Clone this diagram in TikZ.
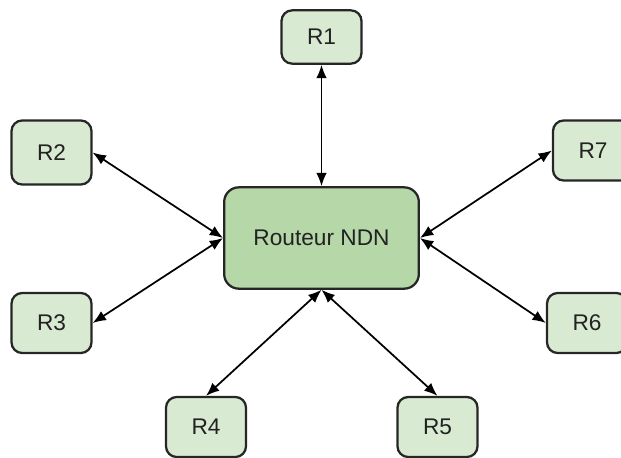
\documentclass[tikz,border=0pt]{standalone}
\usepackage{fontspec}
\setmainfont{Liberation Sans}
\usetikzlibrary{arrows.meta}
\definecolor{routerfill}{HTML}{B6D7A8}
\definecolor{nodefill}{HTML}{D9EAD3}
\definecolor{textdark}{HTML}{222222}
\tikzset{
  >={Latex[length=10pt,width=8pt]},
}
\tikzstyle{router}=[draw=black!85,line width=1.7pt,fill=routerfill,rounded corners=11pt,
  minimum width=146pt,minimum height=76pt,text=textdark,inner sep=0pt]
\tikzstyle{neighbour}=[draw=black!85,line width=1.7pt,fill=nodefill,rounded corners=8pt,
  minimum width=60pt,minimum height=45pt,text=textdark,inner sep=0pt]
\tikzstyle{link}=[line width=1.3pt,<->]
\tikzstyle{every node}=[font=\fontsize{17}{19}\selectfont]

\begin{document}
\begin{tikzpicture}[x=0.75pt,y=-0.75pt]
    \useasboundingbox (0,0) rectangle (621,457);
    \clip (0,0) rectangle (621,457);
    \node[router] (ndn) at (321.5,238) {Routeur NDN};
    \node[neighbour,minimum height=40pt] (r1) at (321.5,37) {R1};
    \node[neighbour,minimum height=48pt] (r2) at (51.5,152.5) {R2};
    \node[neighbour] (r3) at (51.5,323) {R3};
    \node[neighbour] (r4) at (206,427) {R4};
    \node[neighbour] (r5) at (437.5,427) {R5};
    \node[neighbour] (r6) at (587,323) {R6};
    \node[neighbour] (r7) at (593,150.5) {R7};
    \draw[link] (r1.south) -- (ndn.north);
    \draw[link] (r2.east) -- (ndn.west);
    \draw[link] (r3.east) -- (ndn.west);
    \draw[link] (r4.north) -- (ndn.south);
    \draw[link] (r5.north) -- (ndn.south);
    \draw[link] (r6.west) -- (ndn.east);
    \draw[link] (r7.west) -- (ndn.east);
  \end{tikzpicture}
\end{document}
